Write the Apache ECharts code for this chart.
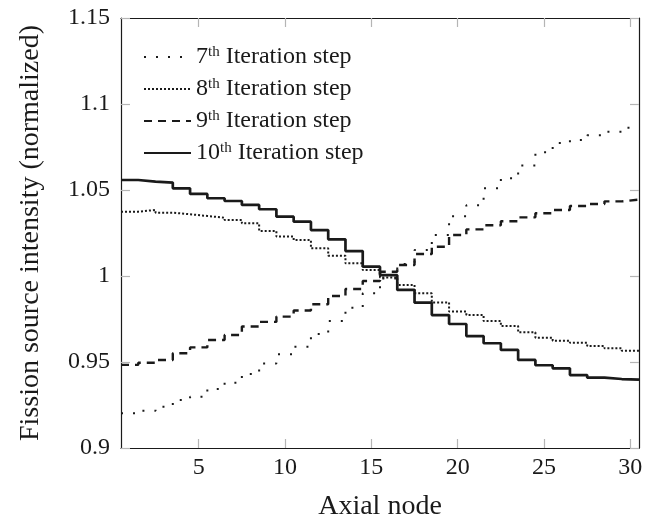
<!DOCTYPE html>
<html>
<head>
<meta charset="utf-8">
<script src="https://cdn.jsdelivr.net/npm/echarts@6/dist/echarts.min.js"></script>
<style>
  html, body { margin: 0; padding: 0; background: #fff; }
  #chart { width: 661px; height: 523px; }
</style>
</head>
<body>
<div id="chart"></div>
<script>
// axial nodes 1..30, each node spans [i-0.5, i+0.5]
var nodes = [];
for (var n = 1; n <= 30; n++) nodes.push(n);

var iter7 = [0.9202, 0.9217, 0.9240, 0.9279, 0.9298, 0.9343, 0.9380, 0.9430, 0.9492, 0.9545,
             0.9589, 0.9663, 0.9738, 0.9816, 0.9899, 0.9985, 1.0070, 1.0151, 1.0238, 1.0347,
             1.0411, 1.0510, 1.0568, 1.0642, 1.0719, 1.0773, 1.0790, 1.0819, 1.0839, 1.0862];
var iter8 = [1.0374, 1.0384, 1.0368, 1.0359, 1.0349, 1.0339, 1.0326, 1.0306, 1.0262, 1.0229,
             1.0209, 1.0161, 1.0118, 1.0074, 1.0035, 0.9992, 0.9948, 0.9899, 0.9846, 0.9793,
             0.9773, 0.9738, 0.9709, 0.9673, 0.9641, 0.9624, 0.9612, 0.9593, 0.9580, 0.9566];
var iter9 = [0.9483, 0.9496, 0.9512, 0.9551, 0.9585, 0.9628, 0.9657, 0.9706, 0.9733, 0.9764,
             0.9799, 0.9836, 0.9884, 0.9924, 0.9971, 1.0025, 1.0064, 1.0128, 1.0170, 1.0238,
             1.0271, 1.0295, 1.0318, 1.0341, 1.0365, 1.0384, 1.0407, 1.0419, 1.0434, 1.0444];
var iter10 = [1.0558, 1.0549, 1.0543, 1.0510, 1.0477, 1.0452, 1.0436, 1.0413, 1.0388, 1.0345,
              1.0316, 1.0267, 1.0213, 1.0145, 1.0054, 1.0005, 0.9919, 0.9845, 0.9773, 0.9721,
              0.9651, 0.9609, 0.9570, 0.9512, 0.9481, 0.9463, 0.9424, 0.9409, 0.9401, 0.9397];

var xTicks = [5, 10, 15, 20, 25, 30];
var names = ['7', '8', '9', '10'];

var font = 'Liberation Serif';
var ink = '#1a1a1a';
var tickGray = '#b5b5b5';

// step line: left edge of each node, plus closing point at right edge
function steps(vals) {
	var out = vals.map(function (v, i) { return [nodes[i] - 0.5, v]; });
	out.push([nodes[nodes.length - 1] + 0.5, vals[vals.length - 1]]);
	return out;
}

function mkSeries(idx, vals, width, type) {
	return {
		name: names[idx],
		type: 'line',
		step: 'end',
		symbol: 'none',
		data: steps(vals),
		lineStyle: { color: ink, width: width, type: type, cap: 'butt' },
		itemStyle: { color: ink },
		emphasis: { disabled: true },
		animation: false
	};
}

function xAx(pos, show) {
	return {
		type: 'value',
		position: pos,
		min: 0.5,
		max: 30.5,
		name: show ? 'Axial node' : '',
		nameLocation: 'middle',
		nameGap: 45,
		nameTextStyle: { fontFamily: font, fontSize: 28, color: ink },
		axisLine: { show: true, onZero: false, lineStyle: { color: ink, width: 1.2 } },
		axisTick: { show: true, inside: true, length: 9, customValues: xTicks, lineStyle: { color: tickGray, width: 1.2 } },
		axisLabel: { show: show, customValues: xTicks, fontFamily: font, fontSize: 24, color: ink, margin: 8 },
		splitLine: { show: false }
	};
}

function yAx(pos, show) {
	return {
		type: 'value',
		position: pos,
		min: 0.9,
		max: 1.15,
		interval: 0.05,
		name: show ? 'Fission source intensity (normalized)' : '',
		nameLocation: 'middle',
		nameGap: 76,
		nameTextStyle: { fontFamily: font, fontSize: 28, color: ink },
		axisLine: { show: true, onZero: false, lineStyle: { color: ink, width: 1.2 } },
		axisTick: { show: true, inside: true, length: 9, lineStyle: { color: tickGray, width: 1.2 } },
		axisLabel: { show: show, fontFamily: font, fontSize: 24, color: ink, margin: 11 },
		splitLine: { show: false }
	};
}

var myChart = echarts.init(document.getElementById('chart'), null, { renderer: 'canvas' });

var option = {
	backgroundColor: '#fff',
	animation: false,
	grid: { left: 121, right: 22, top: 18, bottom: 75, outerBoundsMode: 'none', containLabel: false },
	legend: {
		orient: 'vertical',
		left: 143,
		top: 45,
		padding: 0,
		itemGap: 7,
		itemWidth: 47,
		itemHeight: 20,
		data: names,
		itemStyle: { opacity: 0 },
		formatter: function (name) {
			return name + '{sup|th} Iteration step';
		},
		textStyle: {
			fontFamily: font,
			fontSize: 24,
			lineHeight: 24,
			color: ink,
			rich: {
				sup: { fontFamily: font, fontSize: 15, lineHeight: 24, color: ink, verticalAlign: 'top', padding: [0, 0, 10, 0] }
			}
		}
	},
	xAxis: [xAx('bottom', true), xAx('top', false)],
	yAxis: [yAx('left', true), yAx('right', false)],
	series: [
		mkSeries(0, iter7, 2, [2, 10]),
		mkSeries(1, iter8, 2, [2, 2]),
		mkSeries(2, iter9, 2.4, [8, 6]),
		mkSeries(3, iter10, 2.7, 'solid')
	]
};

myChart.setOption(option);
</script>
</body>
</html>
